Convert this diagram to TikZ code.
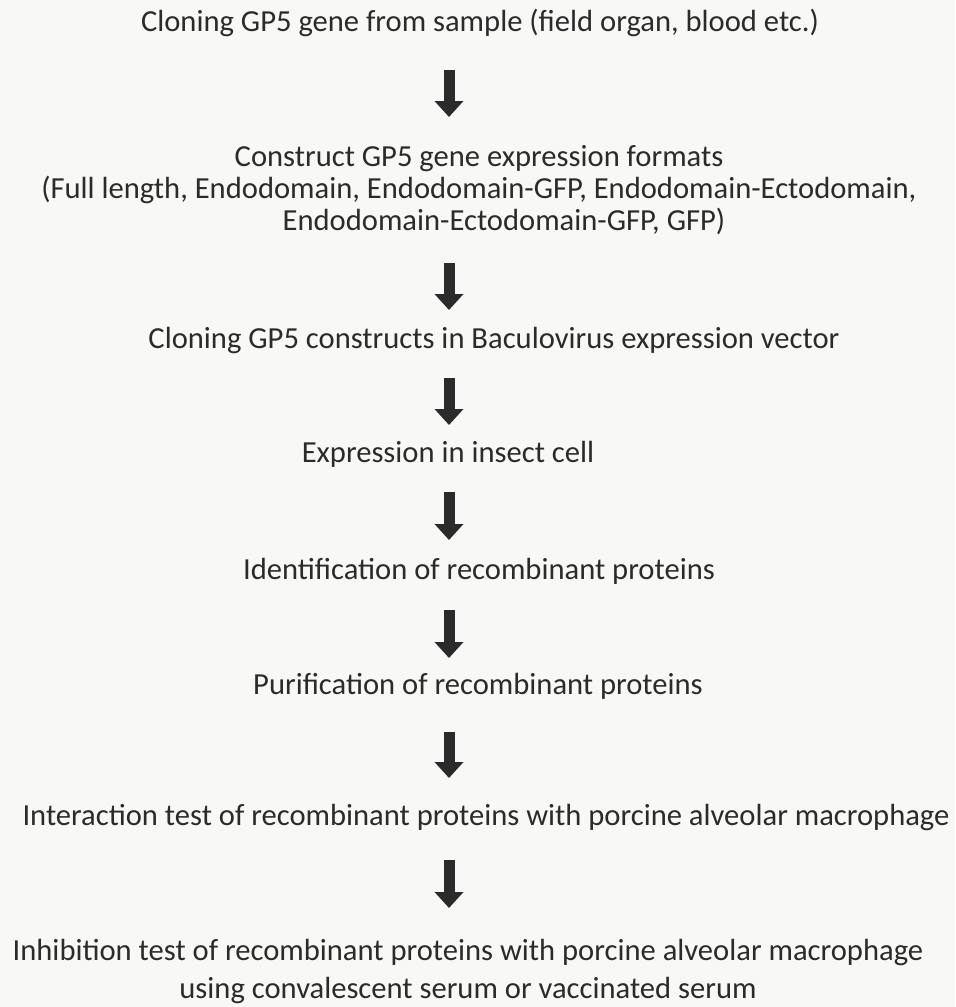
\documentclass[tikz,border=0pt]{standalone}
\usepackage{fontspec}
\setmainfont{Carlito}
\usetikzlibrary{arrows.meta}
\definecolor{ink}{HTML}{2B2B2B}
\definecolor{paper}{HTML}{F8F8F6}
\begin{document}
\begin{tikzpicture}[x=0.5pt,y=-0.5pt,
  txt/.style={inner sep=0pt, text=ink, font=\fontsize{15.3}{16}\selectfont, align=center},
  txtwide/.style={txt, font=\fontsize{15.3}{19}\selectfont},
  barrow/.style={draw=ink, line width=5.5pt, -{Triangle[width=14pt,length=8pt]}}]
\fill[paper] (0,0) rectangle (955,1007);
\useasboundingbox (0,0) rectangle (955,1007);

\node[txt] (t1) at (480,23) {Cloning GP5 gene from sample (field organ, blood etc.)};
\node[txt] (t2) at (479,190) {Construct GP5 gene expression formats\\(Full length, Endodomain, Endodomain-GFP, Endodomain-Ectodomain,\\\hspace*{25pt}Endodomain-Ectodomain-GFP, GFP)};
\node[txt] (t3) at (494,341) {Cloning GP5 constructs in Baculovirus expression vector};
\node[txt] (t4) at (448,454) {Expression in insect cell};
\node[txt] (t5) at (479,571) {Identification of recombinant proteins};
\node[txt] (t6) at (478,686) {Purification of recombinant proteins};
\node[txt] (t7) at (486,817) {Interaction test of recombinant proteins with porcine alveolar macrophage};
\node[txtwide] (t8) at (468,971) {Inhibition test of recombinant proteins with porcine alveolar macrophage\\using convalescent serum or vaccinated serum};

\coordinate (a1s) at (449,70);  \coordinate (a1e) at (449,117);
\coordinate (a2s) at (449,263); \coordinate (a2e) at (449,310);
\coordinate (a3s) at (449,378); \coordinate (a3e) at (449,425);
\coordinate (a4s) at (449,492); \coordinate (a4e) at (449,540);
\coordinate (a5s) at (449,610); \coordinate (a5e) at (449,658);
\coordinate (a6s) at (449,732); \coordinate (a6e) at (449,778);
\coordinate (a7s) at (449,860); \coordinate (a7e) at (449,908);
\foreach \i in {1,...,7} \draw[barrow] (a\i s) -- (a\i e);
\end{tikzpicture}
\end{document}
